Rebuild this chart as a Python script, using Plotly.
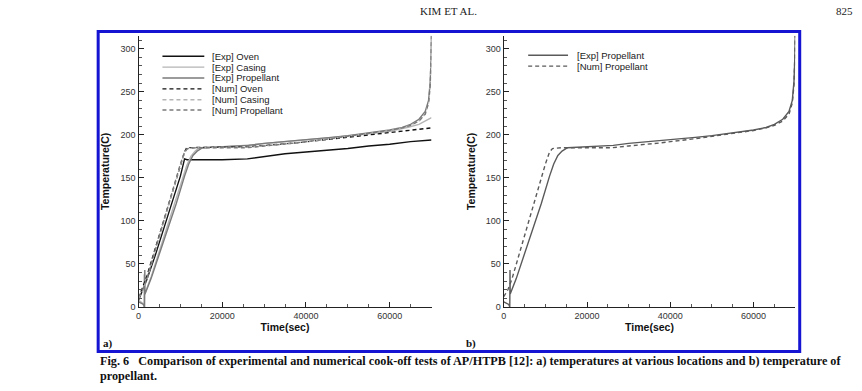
import plotly.graph_objects as go

W, H = 862, 391

# ---------------- data ----------------
# Panel a) temperatures at various locations
t_exp_oven = [0, 2000, 4000, 6000, 8000, 10000, 11000, 11600, 15000, 20000, 26000, 30000, 35000, 40000, 46000, 50000, 55000, 60000, 65000, 70000]
T_exp_oven = [8, 32, 60, 90, 120, 152, 172, 171, 171, 171, 172, 175, 178, 180, 182, 184, 187, 189, 192, 194]

t_exp_casing = [0, 1100, 1300, 1350, 1400, 3000, 5000, 7000, 9000, 10500, 11500, 12500, 13500, 14500, 20000, 26000, 30000, 37500, 46000, 50000, 55000, 60000, 64400, 67000, 70000]
T_exp_casing = [8, 4, 0, 38, 14, 35, 65, 95, 126, 150, 164, 175, 181, 185, 186, 188, 190, 193, 196.5, 198.5, 201, 204, 208.7, 212, 220]

t_exp_prop = [0, 1200, 1450, 1500, 1550, 3000, 5000, 7000, 9000, 11000, 12000, 13000, 14000, 15300, 20000, 26300, 30000, 37500, 46000, 50000, 55000, 60000, 63000, 65000, 67000, 68500, 69300, 69700, 69900, 70000]
T_exp_prop = [6, 3, 0, 43, 15, 33, 62, 90, 120, 152, 166, 176, 181, 185, 186, 187.7, 190, 193, 197, 199, 202, 205.5, 208.5, 212, 218, 227, 240, 262, 290, 315]

t_num_oven = [0, 2000, 4000, 6000, 8000, 10000, 11000, 11500, 20000, 26000, 30000, 37500, 46000, 55000, 60000, 65000, 70000]
T_num_oven = [10, 36, 68, 100, 132, 164, 180, 185, 185.5, 186, 187.5, 190.5, 195, 200, 203, 205.5, 208]

t_num_casing = [0, 1000, 2000, 4000, 6000, 8000, 10000, 11000, 11700, 14000, 20000, 26000, 30000, 37500, 46000, 50000, 55000, 60000, 63000, 65000, 67000, 68500, 69300, 69700, 69900, 70000]
T_num_casing = [10, 19, 32, 65, 99, 133, 165, 179, 184, 185, 185, 185.5, 187, 190.5, 195.5, 198, 201, 205, 208, 211, 216, 224, 237, 258, 290, 315]

t_num_prop = [0, 1000, 2000, 4000, 6000, 8000, 10000, 11000, 11700, 14000, 20000, 26000, 30000, 37500, 46000, 50000, 55000, 60000, 63000, 65000, 67000, 68500, 69300, 69700, 69900, 70000]
T_num_prop = [12, 20, 33, 66, 100, 134, 166, 180, 184, 185, 185, 185, 187, 190.5, 195.5, 198, 201, 205, 208, 211, 216, 224, 237, 258, 290, 315]

# Panel b) temperature of propellant
t_b_exp = t_exp_prop
T_b_exp = T_exp_prop
t_b_num = t_num_prop
T_b_num = T_num_prop

legend_a = ["[Exp] Oven", "[Exp] Casing", "[Exp] Propellant", "[Num] Oven", "[Num] Casing", "[Num] Propellant"]
legend_b = ["[Exp] Propellant", "[Num] Propellant"]

caption1 = "Fig. 6   Comparison of experimental and numerical cook-off tests of AP/HTPB [12]: a) temperatures at various locations and b) temperature of"
caption2 = "propellant."

# ---------------- styles ----------------
C_OVEN = "#111111"
C_CASING = "#b4b4b4"
C_PROP = "#7a7a7a"
C_B = "#5a5a5a"
DASH = "4px,3px"
LW = 1.4

def px(x):
    return x / W

def py(y):
    return 1 - y / H

fig = go.Figure()

series_a = [
    (t_exp_oven, T_exp_oven, C_OVEN, "solid"),
    (t_exp_casing, T_exp_casing, C_CASING, "solid"),
    (t_exp_prop, T_exp_prop, C_PROP, "solid"),
    (t_num_oven, T_num_oven, C_OVEN, DASH),
    (t_num_casing, T_num_casing, C_CASING, DASH),
    (t_num_prop, T_num_prop, C_PROP, DASH),
]
for (tx, ty, col, dash), name in zip(series_a, legend_a):
    fig.add_trace(go.Scatter(x=tx, y=ty, mode="lines", name=name,
                             line=dict(color=col, width=LW, dash=dash),
                             xaxis="x", yaxis="y", showlegend=False))

series_b = [
    (t_b_exp, T_b_exp, C_B, "solid"),
    (t_b_num, T_b_num, C_B, DASH),
]
for (tx, ty, col, dash), name in zip(series_b, legend_b):
    fig.add_trace(go.Scatter(x=tx, y=ty, mode="lines", name=name,
                             line=dict(color=col, width=LW, dash=dash),
                             xaxis="x2", yaxis="y2", showlegend=False))

tick_font = dict(family="Liberation Sans, Arial", size=9, color="#333333")
title_font = dict(family="Liberation Sans, Arial", size=10.5, color="#111111", weight="bold")

def xaxis(dom, anchor):
    return dict(domain=dom, anchor=anchor, range=[0, 70000], tick0=0, dtick=20000, tickformat="d",
                showline=True, linecolor="#222222", linewidth=1.2, mirror=False,
                ticks="inside", ticklen=5, tickwidth=1.2, tickcolor="#222222",
                minor=dict(dtick=5000, ticks="inside", ticklen=3, tickcolor="#555555", tickwidth=1),
                showgrid=False, zeroline=False, tickfont=tick_font,
                title=dict(text="Time(sec)", font=title_font, standoff=0))

def yaxis(anchor):
    return dict(domain=[py(311), py(36.2)], anchor=anchor, range=[0, 315], tick0=0, dtick=50,
                showline=True, linecolor="#222222", linewidth=1.2, mirror=False,
                ticks="inside", ticklen=5, tickwidth=1.2, tickcolor="#222222",
                minor=dict(dtick=10, ticks="inside", ticklen=3, tickcolor="#555555", tickwidth=1),
                showgrid=False, zeroline=False, tickfont=tick_font,
                title=dict(text="Temperature(C)", font=title_font, standoff=8))

shapes = [dict(type="rect", xref="paper", yref="paper",
               x0=px(95.5), x1=px(799.5), y0=py(356), y1=py(32),
               line=dict(color="#1414d2", width=3))]
annotations = []

leg_font = dict(family="Liberation Sans, Arial", size=9.5, color="#1a1a1a")
rows_a = [57, 68, 79, 90, 101, 111.5]
for (tx, ty, col, dash), name, yy in zip(series_a, legend_a, rows_a):
    shapes.append(dict(type="line", xref="paper", yref="paper", x0=px(160), x1=px(202),
                       y0=py(yy), y1=py(yy), line=dict(color=col, width=LW, dash=dash)))
    annotations.append(dict(text=name, xref="paper", yref="paper", x=px(208), y=py(yy),
                            xanchor="left", yanchor="middle", showarrow=False, font=leg_font))
rows_b = [56, 67]
for (tx, ty, col, dash), name, yy in zip(series_b, legend_b, rows_b):
    shapes.append(dict(type="line", xref="paper", yref="paper", x0=px(527), x1=px(567),
                       y0=py(yy), y1=py(yy), line=dict(color=col, width=LW, dash=dash)))
    annotations.append(dict(text=name, xref="paper", yref="paper", x=px(574), y=py(yy),
                            xanchor="left", yanchor="middle", showarrow=False, font=leg_font))

serif_b = dict(family="Liberation Serif, Times New Roman", size=11, color="#111111", weight="bold")
cap_font = dict(family="Liberation Serif, Times New Roman", size=12.2, color="#111111", weight="bold")
serif = dict(family="Liberation Serif, Times New Roman", size=11, color="#222222")
annotations += [
    dict(text="a)", xref="paper", yref="paper", x=px(98), y=py(348), xanchor="left", yanchor="middle", showarrow=False, font=serif_b),
    dict(text="b)", xref="paper", yref="paper", x=px(463), y=py(348), xanchor="left", yanchor="middle", showarrow=False, font=serif_b),
    dict(text=caption1, xref="paper", yref="paper", x=px(95), y=py(366), xanchor="left", yanchor="middle", showarrow=False, font=cap_font),
    dict(text=caption2, xref="paper", yref="paper", x=px(95), y=py(380.5), xanchor="left", yanchor="middle", showarrow=False, font=cap_font),
    dict(text="KIM ET AL.", xref="paper", yref="paper", x=px(447), y=py(11), xanchor="center", yanchor="middle", showarrow=False, font=serif),
    dict(text="825", xref="paper", yref="paper", x=px(855), y=py(11), xanchor="right", yanchor="middle", showarrow=False, font=serif),
]

fig.update_layout(
    width=W, height=H, margin=dict(l=0, r=0, t=0, b=0),
    paper_bgcolor="white", plot_bgcolor="white",
    xaxis=xaxis([px(136), px(430)], "y"),
    yaxis=yaxis("x"),
    xaxis2=xaxis([px(502.5), px(795)], "y2"),
    yaxis2=yaxis("x2"),
    shapes=shapes, annotations=annotations, showlegend=False,
)

fig.write_html("out.html", config={"displayModeBar": False},
               post_script="document.body.style.margin='0';document.body.style.padding='0';document.body.style.overflow='hidden';")
